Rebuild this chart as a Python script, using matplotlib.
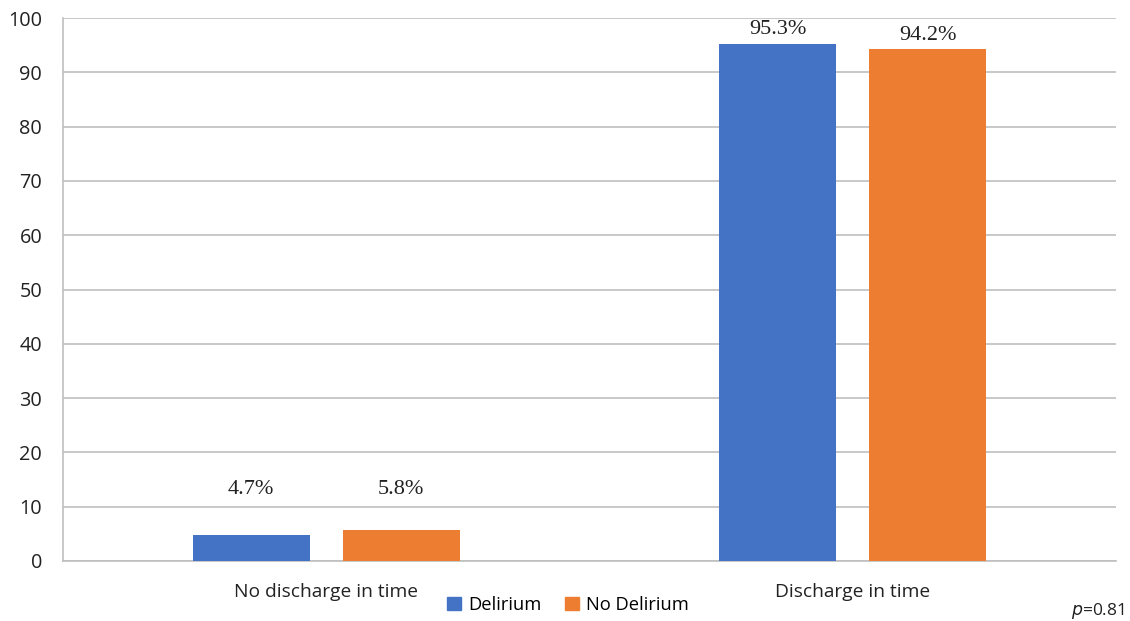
import matplotlib
matplotlib.use("Agg")
import matplotlib.pyplot as plt
import numpy as np
from matplotlib.patches import Patch

categories = ["No discharge in time", "Discharge in time"]
delirium = [4.7, 95.3]
no_delirium = [5.8, 94.2]
series_names = ["Delirium", "No Delirium"]
yticks = [0, 10, 20, 30, 40, 50, 60, 70, 80, 90, 100]

blue = "#4472C4"
orange = "#ED7D31"

fig = plt.figure(figsize=(11.3, 6.21), dpi=100)
ax = fig.add_axes([63/1130, 1-561/621, (1116-63)/1130, (561-18)/621])

x = np.arange(len(categories))
w = 0.222
off = 0.1425
b1 = ax.bar(x - off, delirium, w, color=blue, zorder=3)
b2 = ax.bar(x + off, no_delirium, w, color=orange, zorder=3)

for bars, vals in ((b1, delirium), (b2, no_delirium)):
    for r, v in zip(bars, vals):
        ypos = max(v + 2.6, 13.1)
        ax.text(r.get_x() + r.get_width()/2, ypos, f"{v}%", ha="center", va="center",
                fontsize=16, family="Liberation Serif", color="#222222")

ax.set_xlim(-0.5, 1.5)
ax.set_ylim(0, 100)
ax.set_yticks(yticks)
ax.set_yticklabels([str(t) for t in yticks], fontsize=14.3, family="Open Sans", color="#222222")
ax.set_xticks(x)
ax.set_xticklabels(categories, fontsize=13.8, family="Open Sans", color="#222222")
ax.tick_params(axis="y", length=0, pad=15)
ax.tick_params(axis="x", length=0, pad=16)
ax.grid(axis="y", color="#BFBFBF", linewidth=1.2, zorder=0)
for s in ["top", "right"]:
    ax.spines[s].set_visible(False)
ax.spines["left"].set_color("#BFBFBF")
ax.spines["bottom"].set_color("#BFBFBF")
ax.spines["left"].set_linewidth(1.2)
ax.spines["bottom"].set_linewidth(1.2)

handles = [Patch(color=blue, label=series_names[0]), Patch(color=orange, label=series_names[1])]
fig.legend(handles=handles, loc="center", bbox_to_anchor=(568/1130, 1-605/621), ncol=2,
           frameon=False, prop={"family": "Open Sans", "size": 13.2},
           handlelength=0.75, handleheight=0.75, handletextpad=0.4, columnspacing=1.3)

fig.text(1125/1130, 1-611/621, r"$p$=0.81", ha="right", va="center", fontsize=12.5,
         family="Open Sans", color="#222222")

fig.savefig("out.png", dpi=100)
